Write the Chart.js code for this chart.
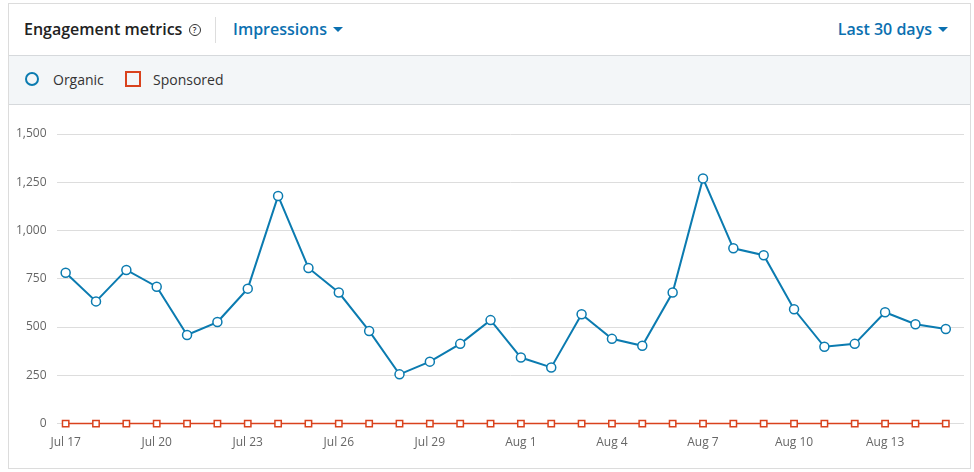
<!DOCTYPE html>
<html><head><meta charset="utf-8">
<script src="https://cdn.jsdelivr.net/npm/chart.js@4"></script>
<style>
body{margin:0;background:#fff;font-family:"Open Sans",Lato,sans-serif;}
#card{position:absolute;left:8px;top:3px;width:963px;height:466px;border:1px solid #dcdcdc;box-sizing:border-box;}
#hdr{height:51px;border-bottom:1px solid #d6d9dc;position:relative;}
#title{position:absolute;left:15px;top:14px;font-size:16px;color:#222;font-weight:600;}
#q{display:inline-block;width:10px;height:10px;border:1.3px solid #333;border-radius:50%;font-size:8px;line-height:10px;text-align:center;vertical-align:2px;margin-left:2px;}
#sep{position:absolute;left:206px;top:13px;width:1px;height:26px;background:#ddd;}
.dd{position:absolute;top:14px;font-size:16px;font-weight:600;color:#0b70b0;}
.dd:after{content:"";display:inline-block;margin-left:6px;border-left:5px solid transparent;border-right:5px solid transparent;border-top:5px solid #0b70b0;vertical-align:3px;}
#leg{height:48px;background:#f3f6f8;border-bottom:1px solid #d6d9dc;position:relative;font-size:14px;color:#333;}
#leg span{position:absolute;top:14px;}
#c{position:absolute;left:1px;top:100px;width:960px;height:364px;}
</style></head><body>
<div id="card">
<div id="hdr"><div id="title">Engagement metrics <span id="q">?</span></div><div id="sep"></div>
<div class="dd" style="left:224px">Impressions</div><div class="dd" style="right:22px">Last 30 days</div></div>
<div id="leg">
<div style="position:absolute;left:16px;top:16px;width:14px;height:14px;border:2px solid #0b7bb0;border-radius:50%;box-sizing:border-box"></div>
<span style="left:44px">Organic</span>
<div style="position:absolute;left:116px;top:15px;width:16px;height:16px;border:2px solid #d9421d;box-sizing:border-box"></div>
<span style="left:144px">Sponsored</span>
</div>
<div id="c"><canvas id="cv"></canvas></div>
</div>
<script>
const labels=["Jul 17","Jul 18","Jul 19","Jul 20","Jul 21","Jul 22","Jul 23","Jul 24","Jul 25","Jul 26","Jul 27","Jul 28","Jul 29","Jul 30","Jul 31","Aug 1","Aug 2","Aug 3","Aug 4","Aug 5","Aug 6","Aug 7","Aug 8","Aug 9","Aug 10","Aug 11","Aug 12","Aug 13","Aug 14","Aug 15"];
const organic=[781,633,796,709,459,526,699,1179,806,679,480,255,321,413,536,342,291,566,439,403,679,1270,908,872,592,398,413,577,515,490];
const sponsored=[0,0,0,0,0,0,0,0,0,0,0,0,0,0,0,0,0,0,0,0,0,0,0,0,0,0,0,0,0,0];
const yTicks=[0,250,500,750,1000,1250,1500];
const pts=a=>a.map((v,i)=>({x:i,y:v}));
new Chart(document.getElementById('cv'),{type:'line',
data:{datasets:[
{label:'Sponsored',data:pts(sponsored),borderColor:'#d9421d',backgroundColor:'#fff',pointStyle:'rect',pointRadius:4.5,pointBorderWidth:1.5,borderWidth:1.5,tension:0,clip:false},
{label:'Organic',data:pts(organic),borderColor:'#0b7bb0',backgroundColor:'#fff',pointRadius:4.5,pointBorderWidth:1.5,borderWidth:2,tension:0,clip:false}]},
options:{responsive:true,maintainAspectRatio:false,animation:false,
layout:{padding:{top:30,right:0,left:4,bottom:14}},
plugins:{legend:{display:false},tooltip:{enabled:false}},
scales:{
x:{type:'linear',min:-0.3,max:29.6,grid:{display:false},border:{display:false},
 afterBuildTicks:ax=>{ax.ticks=labels.map((l,i)=>({value:i})).filter(t=>t.value%3===0);},
 ticks:{callback:v=>labels[v],color:'#666',font:{size:12,family:'Open Sans'},maxRotation:0,autoSkip:false,padding:4}},
y:{min:0,max:1500,grid:{color:'#dddddd',tickLength:8,tickColor:'#fff'},border:{display:false},
 afterBuildTicks:ax=>{ax.ticks=yTicks.map(v=>({value:v}));},
 ticks:{color:'#666',font:{size:12,family:'Open Sans'},padding:2,callback:v=>v.toLocaleString('en-US')}}}}});
</script></body></html>
